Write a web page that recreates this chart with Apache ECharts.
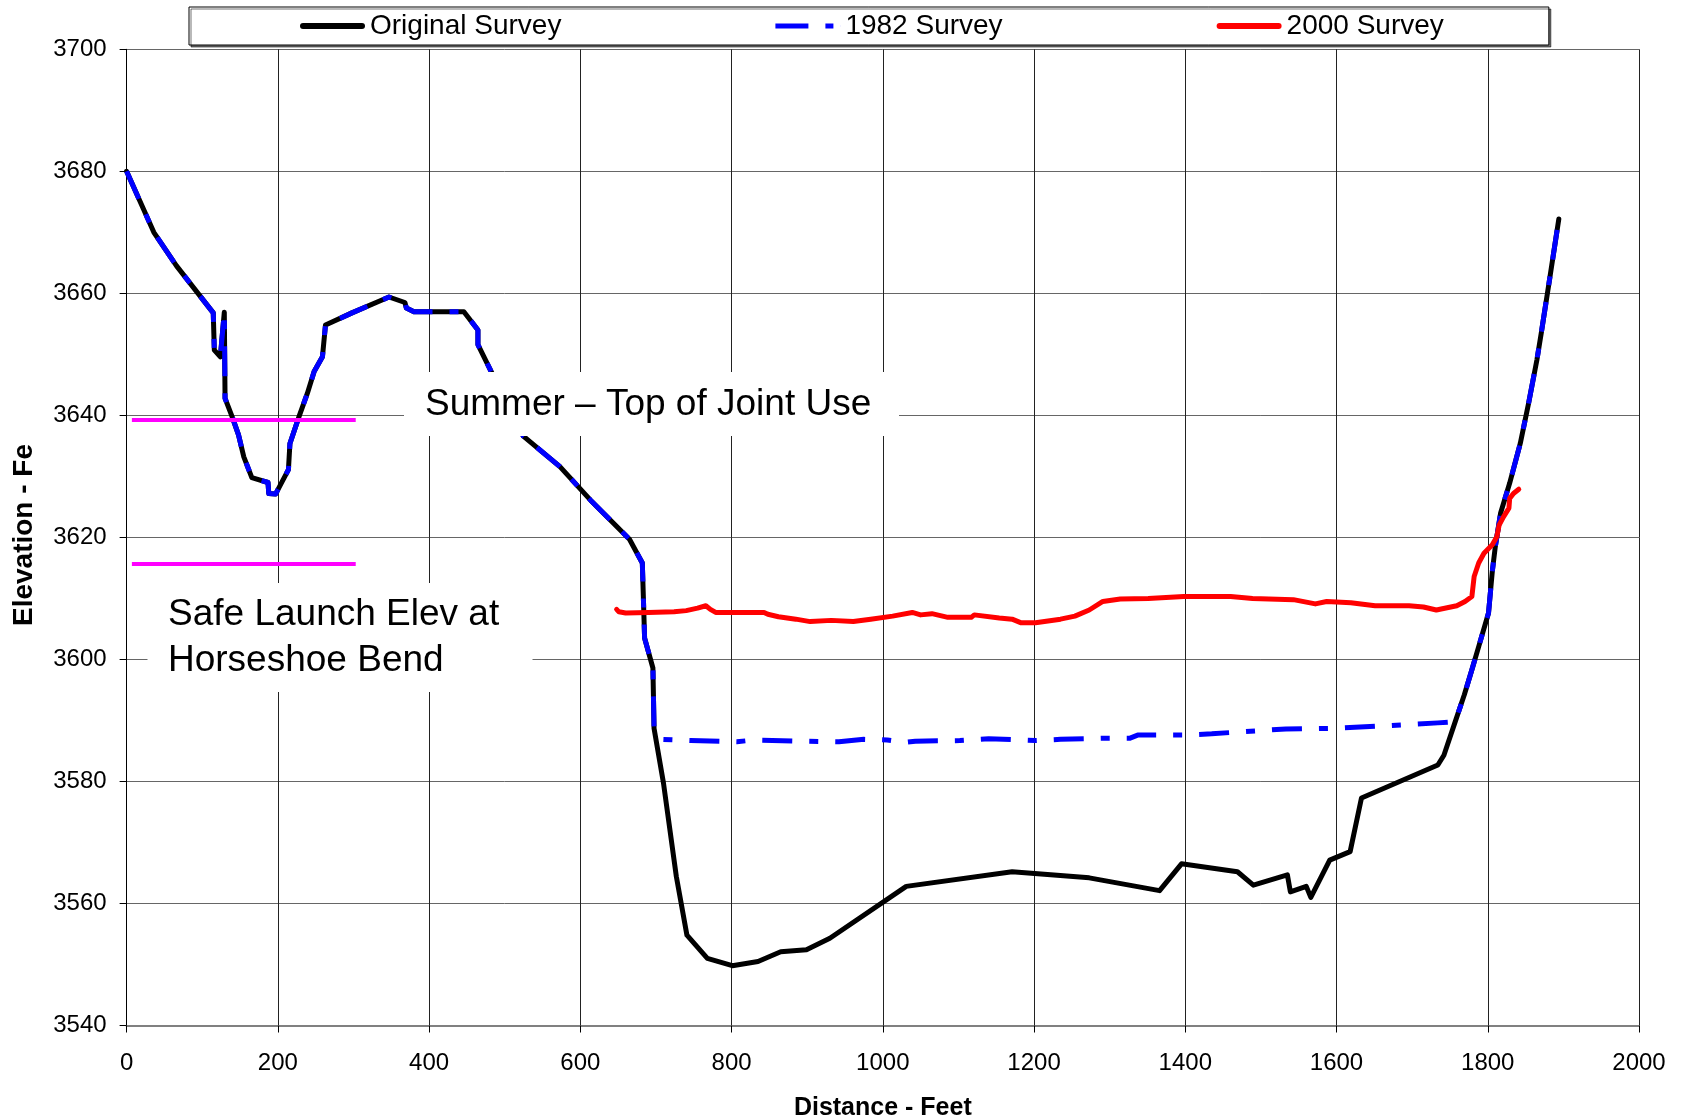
<!DOCTYPE html>
<html>
<head>
<meta charset="utf-8">
<script src="https://cdn.jsdelivr.net/npm/echarts@6/dist/echarts.min.js"></script>
<style>
  html, body { margin: 0; padding: 0; background: #fff; }
  #main { width: 1682px; height: 1118px; }
</style>
</head>
<body>
<div id="main"></div>
<script>
// [distance ft, elevation ft]
const originalSurvey = [
  [0, 3680], [18, 3675], [36, 3670], [66, 3664.5], [114.6, 3656.8], [116, 3650.7], [124, 3649.6],
  [129.2, 3656.9], [130.2, 3642.8], [139.5, 3639.8], [148, 3636.8], [155, 3633.2], [165.6, 3629.8],
  [187, 3629], [188, 3627.2], [197, 3627.1], [214, 3631.1], [216, 3635.4], [228, 3639.8], [239, 3643.6],
  [248, 3647.2], [259, 3649.6], [263, 3654.8], [298, 3656.8], [347, 3659.4], [368, 3658.5], [370, 3657.6],
  [380, 3657], [446, 3657], [464.6, 3654], [464.6, 3651.6], [482, 3647.2], [524.6, 3636.6], [573, 3631.6],
  [613.5, 3626.1], [665, 3619.7], [682, 3615.8], [685, 3603.5], [696, 3598.6], [697.5, 3588.7],
  [710, 3579.7], [727, 3564.4], [741, 3554.8], [768, 3551], [801, 3549.8], [835, 3550.5], [865, 3552.1],
  [899, 3552.4], [930, 3554.3], [1031, 3562.8], [1171, 3565.2], [1273, 3564.2], [1366, 3562.1],
  [1395, 3566.5], [1469, 3565.2], [1490, 3563], [1535, 3564.7], [1539, 3561.9], [1560, 3562.8],
  [1566, 3561], [1591, 3567.1], [1618, 3568.5], [1633, 3577.3], [1734, 3582.7], [1742, 3584.3],
  [1757, 3589.8], [1769, 3594.2], [1779, 3598.3], [1788, 3602.1], [1801, 3607.6], [1806, 3614.4],
  [1810, 3618.5], [1817, 3624], [1829, 3628.9], [1843, 3635.4], [1854, 3642], [1865, 3649.1],
  [1871, 3653.7], [1882, 3662.5], [1894, 3672.2]
];

const survey1982 = [
  [0, 3680], [18, 3675], [36, 3670], [66, 3664.5], [114.6, 3656.8], [116, 3650.7], [124, 3649.6],
  [129.2, 3656.9], [130.2, 3642.8], [139.5, 3639.8], [148, 3636.8], [155, 3633.2], [165.6, 3629.8],
  [187, 3629], [188, 3627.2], [197, 3627.1], [214, 3631.1], [216, 3635.4], [228, 3639.8], [239, 3643.6],
  [248, 3647.2], [259, 3649.6], [263, 3654.8], [298, 3656.8], [347, 3659.4], [368, 3658.5], [370, 3657.6],
  [380, 3657], [446, 3657], [464.6, 3654], [464.6, 3651.6], [482, 3647.2], [524.6, 3636.6], [573, 3631.6],
  [613.5, 3626.1], [665, 3619.7], [682, 3615.8], [685, 3603.5], [696, 3598.6], [697.5, 3588.7],
  [708, 3586.9], [746, 3586.7], [807, 3586.5], [829, 3586.8], [890, 3586.6], [942, 3586.5],
  [975, 3586.9], [1006, 3586.8], [1029, 3586.4], [1043, 3586.6], [1102, 3586.7], [1140, 3587],
  [1202, 3586.7], [1235, 3586.9], [1300, 3587.1], [1327, 3587.1], [1337, 3587.6], [1401, 3587.6],
  [1435, 3587.8], [1469, 3588.1], [1533, 3588.6], [1597, 3588.7], [1661, 3589.1], [1734, 3589.6],
  [1757, 3589.8], [1769, 3594.2], [1779, 3598.3], [1788, 3602.1], [1801, 3607.6], [1806, 3614.4],
  [1810, 3618.5], [1817, 3624], [1829, 3628.9], [1843, 3635.4], [1854, 3642], [1865, 3649.1],
  [1871, 3653.7], [1882, 3662.5], [1894, 3672.2]
];

const survey2000 = [
  [648, 3608.2], [651, 3607.8], [660, 3607.6], [690, 3607.7], [724, 3607.8], [740, 3608], [755, 3608.4],
  [766, 3608.8], [772, 3608.2], [779, 3607.7], [843, 3607.7], [848, 3607.4], [862, 3607.0], [885, 3606.6],
  [904, 3606.2], [932, 3606.4], [961, 3606.2], [984, 3606.6], [1013, 3607.1], [1039, 3607.7],
  [1050, 3607.3], [1065, 3607.5], [1086, 3606.9], [1117, 3606.9], [1121, 3607.3], [1154, 3606.8],
  [1171, 3606.6], [1183, 3606.0], [1202, 3606.0], [1235, 3606.6], [1254, 3607.1], [1273, 3608.1],
  [1291, 3609.5], [1314, 3609.9], [1351, 3610.0], [1398, 3610.3], [1460, 3610.3], [1489, 3610.0],
  [1543, 3609.8], [1572, 3609.1], [1587, 3609.5], [1619, 3609.3], [1651, 3608.8], [1696, 3608.8],
  [1715, 3608.6], [1732, 3608.1], [1759, 3608.8], [1770, 3609.5], [1779, 3610.3], [1782, 3613.6],
  [1788, 3615.8], [1795, 3617.4], [1806, 3618.8], [1812, 3620.1], [1815, 3622], [1821, 3623.4],
  [1828, 3624.8], [1829, 3626.4], [1834, 3627.2], [1841, 3627.9]
];

const seriesNames = ['Original Survey', '1982 Survey', '2000 Survey'];
const jointUseElev = 3639.3;
const safeLaunchElev = 3615.7;
const refLineRange = [7, 303];
const summerLabel = 'Summer \u2013 Top of Joint Use';
const safeLabel = 'Safe Launch Elev at\nHorseshoe Bend';

const font = 'Liberation Sans, Arial, sans-serif';
const solidIcon = 'path://M3,0 H62 A3,3 0 0 1 62,6 H3 A3,3 0 0 1 3,0 Z';
const dashDotIcon = 'path://M0,0 H33 V5 H0 Z M50,0 H58 V5 H50 Z M64.9,2 H65 V3 H64.9 Z';

const chart = echarts.init(document.getElementById('main'));

const option = {
  animation: false,
  backgroundColor: '#fff',
  grid: { left: 126.6, right: 43, top: 49.3, bottom: 92.5, show: false, outerBoundsMode: 'none', containLabel: false },
  legend: {
    data: [
      { name: seriesNames[0], icon: solidIcon },
      { name: seriesNames[1], icon: dashDotIcon },
      { name: seriesNames[2], icon: solidIcon }
    ],
    left: 189,
    top: 7,
    padding: [5, 105, 5, 111],
    itemGap: 214,
    itemWidth: 65,
    itemHeight: 28,
    backgroundColor: '#fff',
    borderColor: '#000',
    borderWidth: 1,
    borderRadius: 0,
    shadowColor: 'rgba(0,0,0,0.55)',
    shadowOffsetX: 2,
    shadowOffsetY: 2,
    textStyle: { fontFamily: font, fontSize: 28, color: '#000' }
  },
  xAxis: {
    type: 'value',
    min: 0, max: 2000, interval: 200,
    name: 'Distance - Feet',
    nameLocation: 'middle',
    nameGap: 70,
    nameTextStyle: { fontFamily: font, fontSize: 25, fontWeight: 'bold', color: '#000' },
    axisLine: { show: true, lineStyle: { color: '#808080', width: 2 } },
    axisTick: { show: true, length: 7, lineStyle: { color: '#000' } },
    axisLabel: { margin: 26, fontFamily: font, fontSize: 24, color: '#000', formatter: v => String(v) },
    splitLine: { show: true, lineStyle: { color: '#222', width: 1 } }
  },
  yAxis: {
    type: 'value',
    min: 3540, max: 3700, interval: 20,
    axisLine: { show: true, onZero: false, lineStyle: { color: '#000', width: 1 } },
    axisTick: { show: true, length: 7, lineStyle: { color: '#000' } },
    axisLabel: { margin: 20, fontFamily: font, fontSize: 24, color: '#000', formatter: v => String(v) },
    splitLine: { show: true, lineStyle: { color: '#666', width: 1 } }
  },
  series: [
    {
      name: seriesNames[0], type: 'line', data: originalSurvey, showSymbol: false, symbol: 'none',
      lineStyle: { color: '#000', width: 5, join: 'round', cap: 'round' }, itemStyle: { color: '#000' }, z: 2
    },
    {
      name: seriesNames[1], type: 'line', data: survey1982, showSymbol: false, symbol: 'none',
      lineStyle: { color: '#0000ff', width: 5, type: [30, 17, 9, 17], join: 'round' },
      itemStyle: { color: '#0000ff' }, z: 3
    },
    {
      name: seriesNames[2], type: 'line', data: survey2000, showSymbol: false, symbol: 'none',
      lineStyle: { color: '#ff0000', width: 5, join: 'round', cap: 'round' }, itemStyle: { color: '#ff0000' }, z: 4
    },
    {
      name: 'ref', type: 'line', data: [], z: 5,
      markLine: {
        silent: true, symbol: 'none', label: { show: false },
        lineStyle: { color: '#ff00ff', width: 4, type: 'solid' },
        data: [
          [{ coord: [refLineRange[0], jointUseElev] }, { coord: [refLineRange[1], jointUseElev] }],
          [{ coord: [refLineRange[0], safeLaunchElev] }, { coord: [refLineRange[1], safeLaunchElev] }]
        ]
      }
    }
  ],
  graphic: [
    {
      type: 'group', z: 100,
      children: [
        { type: 'rect', shape: { x: 404, y: 372, width: 495, height: 64 }, style: { fill: '#fff' }, z: 100 },
        { type: 'text', x: 425, y: 405, z: 101,
          style: { text: summerLabel, font: '37px ' + font, fill: '#000', verticalAlign: 'middle' } },
        { type: 'rect', shape: { x: 147.5, y: 583, width: 385, height: 109 }, style: { fill: '#fff' }, z: 100 },
        { type: 'text', x: 168, y: 592, z: 101,
          style: { text: safeLabel, font: '37px ' + font, lineHeight: 46, fill: '#000', verticalAlign: 'top' } },
        { type: 'text', x: 24, y: 535, rotation: Math.PI / 2, z: 101,
          style: { text: 'Elevation - Fe', font: 'bold 28px ' + font, fill: '#000', align: 'center', verticalAlign: 'middle' } }
      ]
    }
  ]
};

chart.setOption(option);
</script>
</body>
</html>
